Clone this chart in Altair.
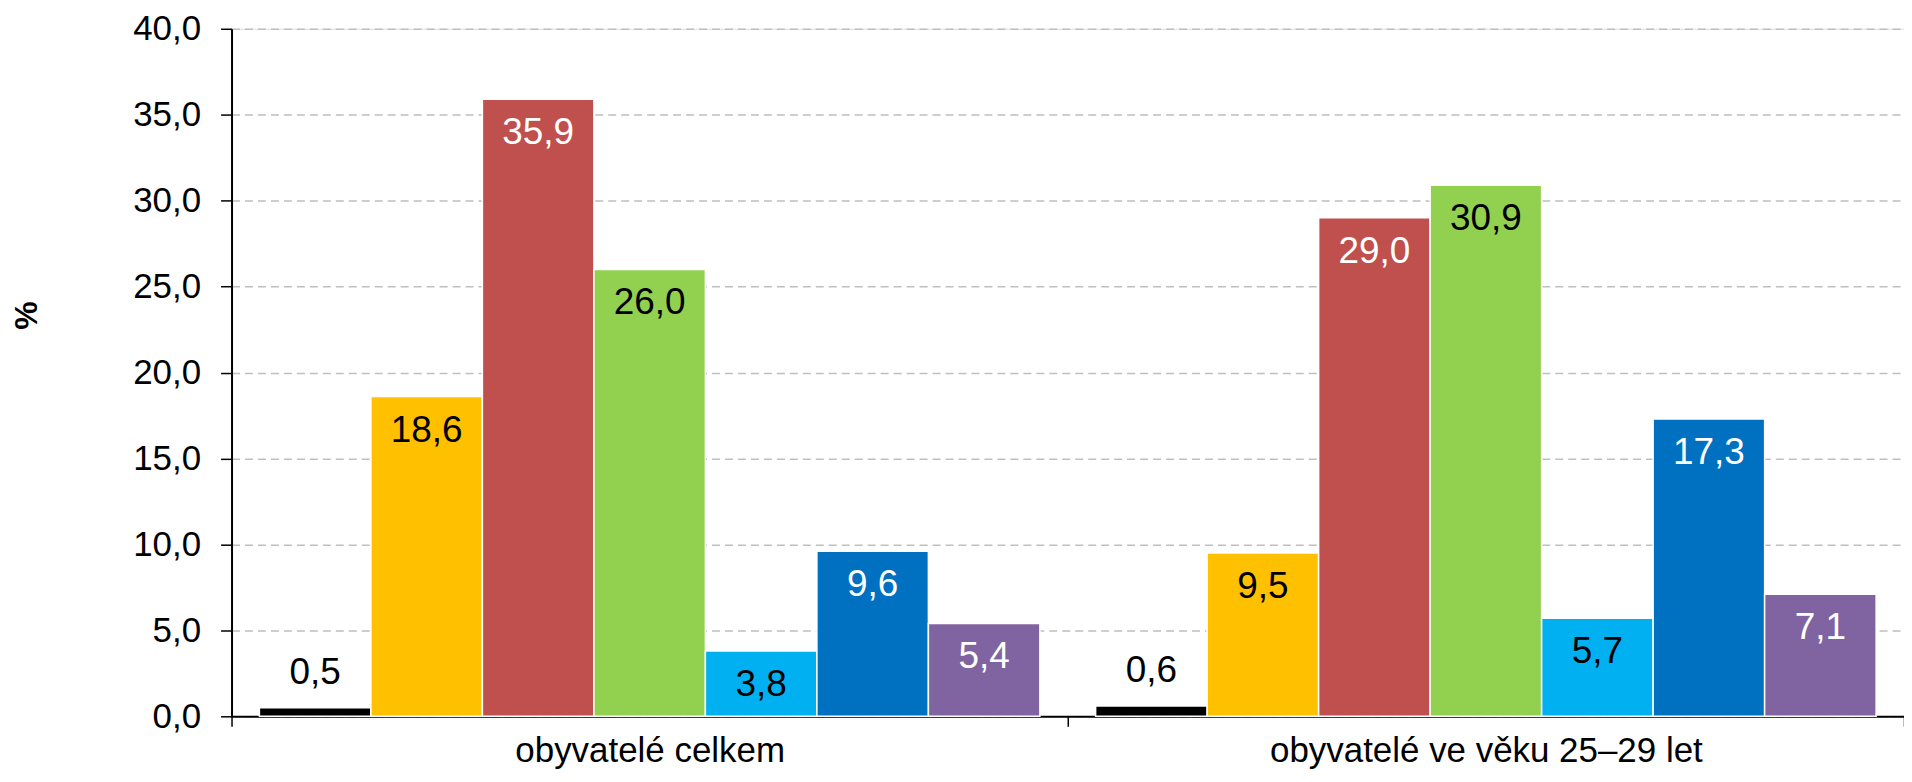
import altair as alt
import pandas as pd

groups = ["obyvatelé celkem", "obyvatelé ve věku 25–29 let"]
series = ["bez vzdělání", "základní", "vyučení", "střední s maturitou", "vyšší odborné", "vysokoškolské", "nezjištěno"]
colors = ["#000000", "#FFC000", "#C0504D", "#92D050", "#00B0F0", "#0070C0", "#8064A2"]
label_colors = ["#000000", "#000000", "#FFFFFF", "#000000", "#000000", "#FFFFFF", "#FFFFFF"]
values_total = [0.5, 18.6, 35.9, 26.0, 3.8, 9.6, 5.4]
values_young = [0.6, 9.5, 29.0, 30.9, 5.7, 17.3, 7.1]

rows = []
for g, vals in zip(groups, [values_total, values_young]):
    for s, v in zip(series, vals):
        rows.append({"skupina": g, "vzdělání": s, "hodnota": v})
df = pd.DataFrame(rows)

FONT = "Liberation Sans"

x_enc = alt.X(
    "skupina:N",
    sort=groups,
    title=None,
    scale=alt.Scale(paddingInner=0, paddingOuter=0),
    axis=alt.Axis(
        labelAngle=0,
        labelFont=FONT,
        labelFontSize=35,
        labelColor="#000000",
        labelPadding=7,
        labelLimit=1000,
        tickBand="extent",
        ticks=True,
        tickSize=10,
        tickColor="#000000",
        tickWidth=1.5,
        domainColor="#000000",
        domainWidth=2,
        grid=False,
    ),
)
xo_enc = alt.XOffset("vzdělání:N", sort=series, scale=alt.Scale(paddingOuter=0.25, paddingInner=0))
y_enc = alt.Y(
    "hodnota:Q",
    scale=alt.Scale(domain=[0, 40], nice=False),
    axis=alt.Axis(
        values=[0, 5, 10, 15, 20, 25, 30, 35, 40],
        labelExpr="replace(format(datum.value, '.1f'), '.', ',')",
        labelFont=FONT,
        labelFontSize=35,
        labelColor="#000000",
        labelPadding=20,
        tickSize=11,
        tickColor="#000000",
        tickWidth=1.5,
        domainColor="#000000",
        domainWidth=2,
        grid=True,
        gridColor="#BFBFBF",
        gridDash=[8, 5],
        gridWidth=1.5,
        title="%",
        titleFont=FONT,
        titleFontSize=32,
        titleFontWeight="bold",
        titleColor="#000000",
        titleAngle=-90,
        titleX=-205,
        titleY=287,
        titleAlign="center",
        titleBaseline="middle",
    ),
)

base = alt.Chart(df).transform_calculate(
    label="replace(format(datum.hodnota, '.1f'), '.', ',')"
)

bars = base.mark_bar(stroke="#FFFFFF", strokeWidth=1.5).encode(
    x=x_enc,
    xOffset=xo_enc,
    y=y_enc,
    color=alt.Color("vzdělání:N", sort=series, scale=alt.Scale(domain=series, range=colors), legend=None),
)

inside = base.transform_filter("datum.hodnota >= 2").mark_text(
    font=FONT, fontSize=37, baseline="middle", align="center", dy=34
).encode(
    x=alt.X("skupina:N", sort=groups),
    xOffset=xo_enc,
    y=alt.Y("hodnota:Q"),
    text="label:N",
    color=alt.Color("vzdělání:N", sort=series, scale=alt.Scale(domain=series, range=label_colors), legend=None),
)

above = base.transform_filter("datum.hodnota < 2").mark_text(
    font=FONT, fontSize=37, baseline="middle", align="center", dy=-35, color="#000000"
).encode(
    x=alt.X("skupina:N", sort=groups),
    xOffset=xo_enc,
    y=alt.Y("hodnota:Q"),
    text="label:N",
)

chart = (
    alt.layer(bars, inside, above)
    .resolve_scale(color="independent")
    .properties(
        width=1676,
        height=689,
        autosize=alt.AutoSizeParams(type="none"),
        padding={"left": 224, "top": 20, "right": 0, "bottom": 57},
    )
    .configure_view(stroke=None)
    .configure(background="#FFFFFF")
)

chart.save("out.html", embed_options={"renderer": "svg", "actions": False})
